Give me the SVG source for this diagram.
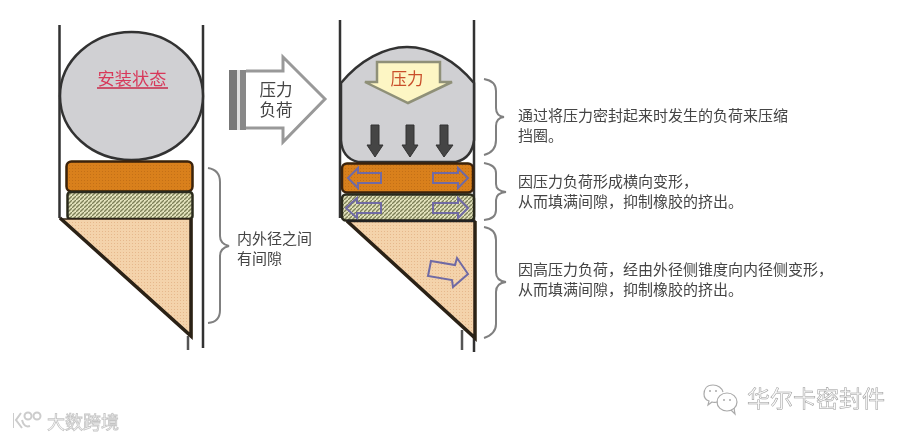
<svg xmlns="http://www.w3.org/2000/svg" width="914" height="439" viewBox="0 0 914 439">
<style>
text{font-family:"Liberation Sans","Noto Sans CJK SC",sans-serif}
.t{font-size:15px;fill:#444}
.w{stroke:#333;stroke-width:2.500;fill:none}
.b{stroke:#808080;stroke-width:2;fill:none}
.o{fill:url(#po);stroke:#3a2208;stroke-width:2.500}
.g{fill:url(#pg);stroke:#2c2c1c;stroke-width:2.500}
.c{fill:url(#pc);stroke:#2c2015;stroke-width:1.500}
.e{stroke:#2c2015;stroke-width:3.500;fill:none}
.bl{fill:none;stroke:#6f6aa4;stroke-width:2}
.da{fill:#444;stroke:#333;stroke-width:1}
.wm{fill:none;stroke:#aaa;stroke-width:1.200}
</style>
<defs>
<pattern id="po" width="3" height="3" patternUnits="userSpaceOnUse"><rect width="3" height="3" fill="#d9801c"/><rect width="1" height="1" fill="#c47012"/></pattern>
<pattern id="pg" width="4" height="4" patternUnits="userSpaceOnUse"><rect width="4" height="4" fill="#e2e2bc"/><path d="M0 4L4 0" stroke="#7d8058" stroke-width="1.300"/></pattern>
<pattern id="pc" width="3" height="3" patternUnits="userSpaceOnUse"><rect width="3" height="3" fill="#f4d3ab"/><rect width="1" height="1" fill="#e6b88c"/></pattern>
<filter id="soft" x="0" y="0" width="100%" height="100%"><feGaussianBlur stdDeviation="0.450"/></filter>
</defs>
<rect width="914" height="439" fill="#fff"/>
<g filter="url(#soft)">
<g id="left-walls">
<path class="w" d="M59.500 25V218M203 25V348"/>
</g>
<g id="left-oring">
<ellipse cx="131.500" cy="96" rx="71.500" ry="64" fill="#d0d0d3" stroke="#333" stroke-width="2.500"/>
<text x="132" y="85" font-size="17.200" fill="#d8385a" text-anchor="middle">安装状态</text>
<path d="M97 88H168" stroke="#c8284a" stroke-width="1.600"/>
</g>
<g id="left-ring-orange"><rect class="o" x="66.500" y="161.500" width="126" height="30" rx="5"/></g>
<g id="left-ring-green"><rect class="g" x="67.500" y="192" width="125" height="27" rx="3"/></g>
<g id="left-wedge">
<path class="c" d="M61 219H191.500V336Z"/>
<path class="e" d="M60 218L191 336V219"/>
<path d="M188 336V350" stroke="#555" stroke-width="2.500"/>
</g>

<g id="load-arrow">
<rect x="229" y="70" width="8" height="60" fill="#777"/>
<rect x="237" y="70" width="3" height="60" fill="#ddd"/>
<rect x="240" y="70" width="6" height="60" fill="#888"/>
<path d="M246 71H283V57L325 99L283 142V128H246" fill="#fff" stroke="#999" stroke-width="3"/>
<text x="276" y="96" font-size="16.500" fill="#444" text-anchor="middle">压力</text>
<text x="276" y="116" font-size="16.500" fill="#444" text-anchor="middle">负荷</text>
</g>

<g id="right-walls">
<path class="w" d="M340 20V218M474 20V352"/>
</g>
<g id="right-oring">
<path d="M341 83C360 60 385 47 407 47C430 47 455 60 474 83V140Q472 158 456 162H358Q342 158 341 140Z" fill="#d0d0d3" stroke="#333" stroke-width="2.500"/>
<path d="M377 62H440V82H452L408 103L365 82H377Z" fill="#fdf6c4" stroke="#8f9078" stroke-width="2.500"/>
<text x="407" y="85" font-size="16.500" fill="#c9502c" text-anchor="middle">压力</text>
<path class="da" d="M371 125H379V145H383L375 157L367 145H371Z"/>
<path class="da" d="M406 125H414V145H418L410 157L402 145H406Z"/>
<path class="da" d="M440 125H448V145H453L444 157L436 145H440Z"/>
</g>
<g id="right-ring-orange">
<rect class="o" x="342" y="163.500" width="131" height="29" rx="5"/>
<path class="bl" d="M348 178L358 168V173H381V183H358V188Z"/>
<path class="bl" d="M468 178L458 168V173H433V183H458V188Z"/>
</g>
<g id="right-ring-green">
<rect class="g" x="342" y="194.500" width="132" height="26" rx="4"/>
<path class="bl" d="M346 208L357 198V203H381V213H357V218Z"/>
<path class="bl" d="M468 208L458 198V203H433V213H458V218Z"/>
</g>
<g id="right-wedge">
<path class="c" d="M347 221H475V338Z"/>
<path class="e" d="M347 221L475 338V221"/>
<path d="M347 221H474" stroke="#222" stroke-width="2.500"/>
<path d="M462 330V350" stroke="#555" stroke-width="2.500"/>
<path class="bl" d="M431 261L455 265L457 258L468 274L453 287L452 280L428 276Z"/>
</g>

<g id="braces">
<path class="b" d="M208 168Q220 170 220 182V236Q220 244 229 246Q220 248 220 256V310Q220 322 208 323"/>
<path class="b" d="M484 79Q496 81 496 91V108Q496 116 504 117Q496 118 496 126V140Q496 152 484 155"/>
<path class="b" d="M484 163Q496 165 496 173V184Q496 191 506 192Q496 193 496 200V210Q496 219 484 220"/>
<path class="b" d="M484 227Q496 229 496 240V272Q496 281 506 282Q496 283 496 292V324Q496 334 484 338"/>
</g>

<g id="labels">
<text class="t" x="237" y="244">内外径之间</text>
<text class="t" x="237" y="264">有间隙</text>
<text class="t" x="518" y="121">通过将压力密封起来时发生的负荷来压缩</text>
<text class="t" x="518" y="141">挡圈。</text>
<text class="t" x="518" y="187">因压力负荷形成横向变形，</text>
<text class="t" x="518" y="207">从而填满间隙，抑制橡胶的挤出。</text>
<text class="t" x="518" y="275">因高压力负荷，经由外径侧锥度向内径侧变形，</text>
<text class="t" x="518" y="295">从而填满间隙，抑制橡胶的挤出。</text>
</g>

<g id="watermarks">
<text x="747" y="407" font-size="23" fill="#fafafa" stroke="#999" stroke-width=".5">华尔卡密封件</text>
<g class="wm">
<path d="M713 385C706 385 704 390 704 394C704 398 706 400 709 401L708 405L712 402C714 403 716 402 718 402"/>
<path d="M713 385C718 385 722 388 723 392"/>
<ellipse cx="727" cy="402" rx="10" ry="9"/>
<path d="M731 410L735 414L734 408"/>
</g>
<g fill="#aaa"><circle cx="710" cy="391" r="1"/><circle cx="716" cy="391" r="1"/><circle cx="724" cy="400" r="1"/><circle cx="730" cy="400" r="1"/></g>
<text x="47" y="429" font-size="18" fill="#fff" stroke="#c4c4c4" stroke-width=".8">大数跨境</text>
<g fill="none" stroke="#ccc" stroke-width="2">
<path d="M13 413V428M21 413L16 420L22 428"/>
<path d="M22 420Q24 428 30 426"/>
<circle cx="28" cy="416" r="3.500"/>
<circle cx="37" cy="416" r="3.500"/>
</g>
</g>
</g>
</svg>
